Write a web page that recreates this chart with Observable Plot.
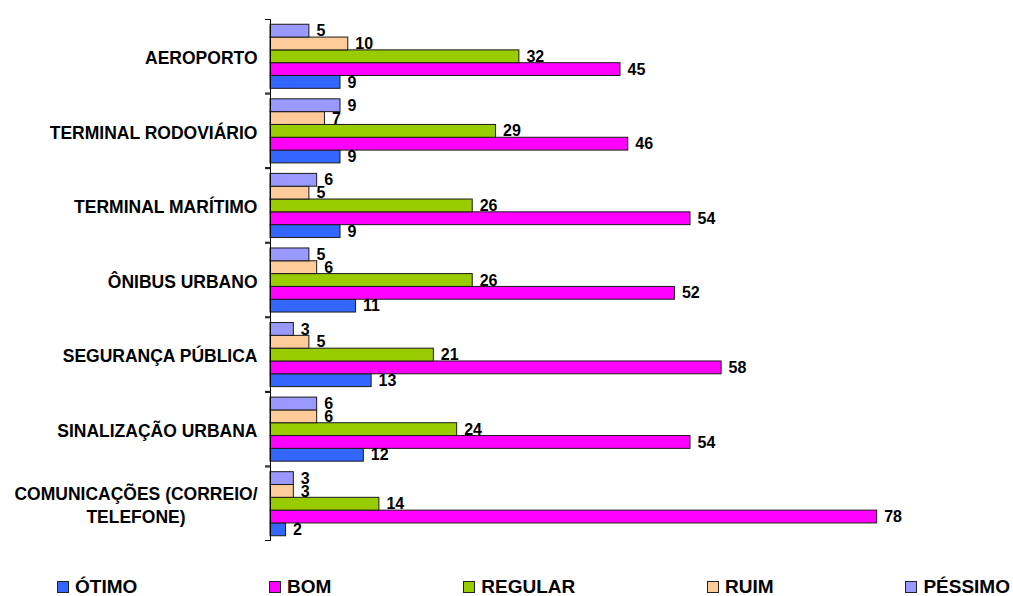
<!DOCTYPE html>
<html><head><meta charset="utf-8">
<script src="https://cdn.jsdelivr.net/npm/d3@7"></script>
<script src="https://cdn.jsdelivr.net/npm/@observablehq/plot@0.6"></script>
<style>
body{margin:0;background:#fff;font-family:"Liberation Sans",Arial,sans-serif;}
#wrap{position:relative;width:1013px;height:596px;overflow:hidden;}
#legend{position:absolute;left:57px;top:578px;width:953px;height:18px;display:flex;justify-content:space-between;align-items:center;}
.item{display:flex;align-items:center;font-weight:bold;font-size:19px;color:#000;line-height:18px;}
.sw{width:12px;height:12px;box-sizing:border-box;border:1px solid #222;margin-right:6px;}
</style></head><body>
<div id="wrap"><div id="chart"></div><div id="legend"></div></div>
<script>
const categories = ["AEROPORTO","TERMINAL RODOVIÁRIO","TERMINAL MARÍTIMO","ÔNIBUS URBANO","SEGURANÇA PÚBLICA","SINALIZAÇÃO URBANA","COMUNICAÇÕES (CORREIO/ TELEFONE)"];
const series = ["ÓTIMO","BOM","REGULAR","RUIM","PÉSSIMO"];
const otimo   = [9, 9, 9, 11, 13, 12, 2];
const bom     = [45, 46, 54, 52, 58, 54, 78];
const regular = [32, 29, 26, 26, 21, 24, 14];
const ruim    = [10, 7, 5, 6, 5, 6, 3];
const pessimo = [5, 9, 6, 5, 3, 6, 3];
const colors  = ["#3366FF","#FF00FF","#99CC00","#FFCC99","#9999FF"];

const values = [otimo, bom, regular, ruim, pessimo];
const rows = [];
categories.forEach((c, i) => series.forEach((s, j) => rows.push({cat: c, series: s, value: values[j][i]})));

const W = 1013, H = 560, mt = 19, mb = 19, ml = 270, mr = 43;
const xMax = 90;
const facetH = (H - mt - mb) / categories.length;
const tick = 5 / ((W - ml - mr) / xMax);

const svg = Plot.plot({
  width: W, height: H, marginTop: mt, marginBottom: mb, marginLeft: ml, marginRight: mr,
  style: {fontFamily: '"Liberation Sans", Arial, sans-serif', background: "white", color: "#000"},
  x: {domain: [0, xMax], axis: null},
  y: {domain: [...series].reverse(), paddingInner: 0, paddingOuter: 0.41, round: false, axis: null},
  fy: {domain: categories, padding: 0, round: false, axis: null},
  color: {domain: series, range: colors},
  marks: [
    Plot.barX(rows, {fy: "cat", y: "series", x: "value", fill: "series", stroke: "#1a1a1a", strokeWidth: 1}),
    Plot.ruleX([0], {stroke: "#000", strokeWidth: 1}),
    Plot.barX([0], {x1: () => -tick, x2: () => 0, fill: "#000", insetBottom: facetH - 1}),
    Plot.barX([0], {x1: () => -tick, x2: () => 0, fill: "#000", insetTop: facetH - 1}),
    Plot.text(categories, {fy: d => d, text: d => d.replace("/ ", "/\n"), frameAnchor: "left", dx: -13, textAnchor: "end", fontSize: 17.5, fontWeight: "bold", lineHeight: 1.32, fill: "#000"}),
    Plot.text(rows, {fy: "cat", y: "series", x: "value", text: d => String(d.value), textAnchor: "start", dx: 7, fontSize: 16, fontWeight: "bold", fill: "#000"})
  ]
});
document.getElementById("chart").appendChild(svg);

// center the lines of the two-line category label
svg.querySelectorAll("text").forEach(t => {
  const spans = t.querySelectorAll("tspan");
  if (spans.length > 1 && t.textContent.includes("TELEFONE")) {
    const maxW = Math.max(...Array.from(spans, s => s.getComputedTextLength()));
    t.setAttribute("text-anchor", "middle");
    spans.forEach(s => s.setAttribute("x", -maxW / 2));
  }
});

const legend = document.getElementById("legend");
series.forEach((s, i) => {
  const item = document.createElement("div");
  item.className = "item";
  const sw = document.createElement("div");
  sw.className = "sw";
  sw.style.background = colors[i];
  item.appendChild(sw);
  item.appendChild(document.createTextNode(s));
  legend.appendChild(item);
});
</script>
</body></html>
